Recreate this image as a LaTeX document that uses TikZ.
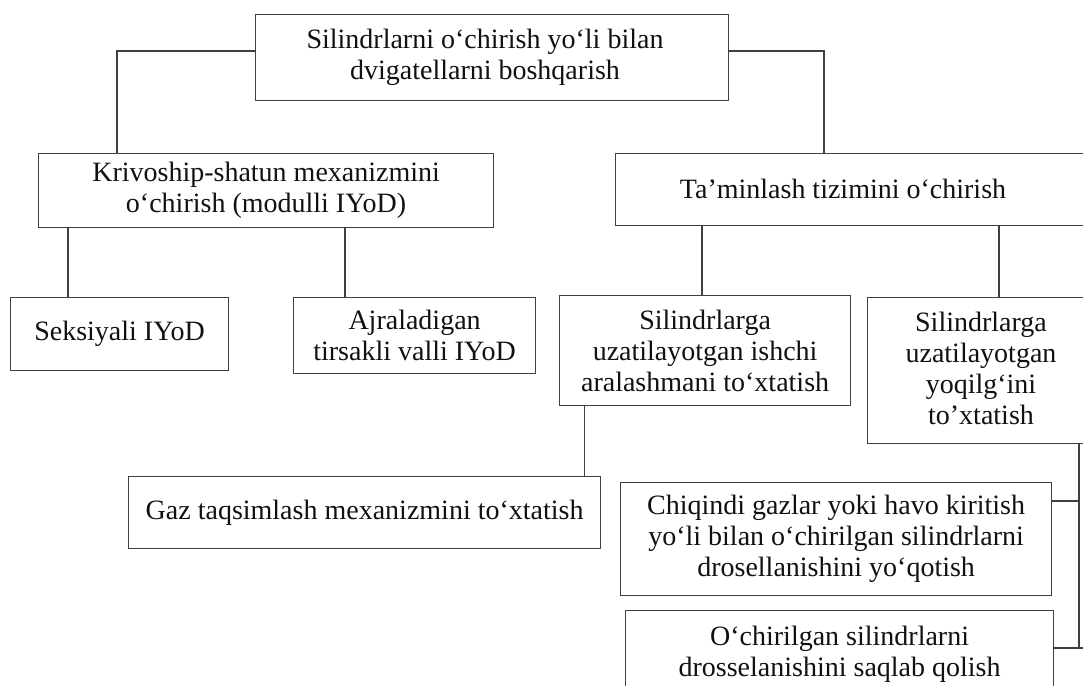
\documentclass[tikz,border=0pt]{standalone}
\usepackage{fontspec}
\setmainfont{Liberation Serif}
\definecolor{edge}{HTML}{404040}
\definecolor{ink}{HTML}{111111}
\begin{document}
\begin{tikzpicture}[x=1pt,y=-1pt,
  box/.style={draw=edge,line width=1.2pt,rectangle,inner sep=0pt,anchor=north west,align=center,text=ink,font=\fontsize{28}{31}\selectfont},
  lbl/.style={inner sep=0pt,align=center,text=ink,font=\fontsize{28}{31}\selectfont},
  conn/.style={draw=edge,line width=1.2pt}]
\useasboundingbox (0,0) rectangle (1083,685);
\clip (0,0) rectangle (1083,685);
\node[box,minimum width=473pt,minimum height=86pt] (top) at (255,14) {};
\node[lbl] (topt) at (485,57) {Silindrlarni o‘chirish yo‘li bilan\\dvigatellarni boshqarish};
\node[box,minimum width=455pt,minimum height=74pt] (kriv) at (38,153) {Krivoship-shatun mexanizmini\\o‘chirish (modulli IYoD)};
\node[box,minimum width=485pt,minimum height=72pt] (tam) at (615,153) {};
\node[lbl] (tamt) at (843,189) {Ta’minlash tizimini o‘chirish};
\node[box,minimum width=218pt,minimum height=73pt] (seks) at (10,297) {Seksiyali IYoD};
\node[box,minimum width=242pt,minimum height=76pt] (ajr) at (293,297) {Ajraladigan\\tirsakli valli IYoD};
\node[box,minimum width=291pt,minimum height=110pt] (ish) at (559,295) {Silindrlarga\\uzatilayotgan ishchi\\aralashmani to‘xtatish};
\node[box,minimum width=233pt,minimum height=146pt] (yoq) at (867,297) {};
\node[lbl] (yoqt) at (981,368) {Silindrlarga\\uzatilayotgan\\yoqilg‘ini\\to’xtatish};
\node[box,minimum width=472pt,minimum height=72pt] (gaz) at (128,476) {Gaz taqsimlash mexanizmini to‘xtatish};
\node[box,minimum width=431pt,minimum height=113pt] (chiq) at (620,482) {Chiqindi gazlar yoki havo kiritish\\yo‘li bilan o‘chirilgan silindrlarni\\drosellanishini yo‘qotish};
\node[box,minimum width=428pt,minimum height=88pt] (och) at (625,610) {O‘chirilgan silindrlarni\\drosselanishini saqlab qolish};
% connectors
\draw[conn] ([yshift=-37pt]top.north west) -| ([xshift=79pt]kriv.north west);
\draw[conn] ([yshift=-37pt]top.north east) -| ([xshift=209pt]tam.north west);
\draw[conn] ([xshift=58pt]seks.north west |- kriv.south) -- ([xshift=58pt]seks.north west);
\draw[conn] ([xshift=52pt]ajr.north west |- kriv.south) -- ([xshift=52pt]ajr.north west);
\draw[conn] ([xshift=87pt]tam.south west) -- ([xshift=87pt]tam.south west |- ish.north);
\draw[conn] ([xshift=132pt]yoq.north west |- tam.south) -- ([xshift=132pt]yoq.north west);
\draw[conn] ([xshift=-17pt]gaz.north east |- ish.south) -- ([xshift=-17pt]gaz.north east);
\draw[conn] ([xshift=212pt]yoq.south west) -- ([xshift=212pt,yshift=-38pt]och.north west -| yoq.south west);
\draw[conn] ([yshift=-19pt]chiq.north east) -- ([yshift=-19pt,xshift=212pt]chiq.north east -| yoq.south west);
\draw[conn] ([yshift=-38pt]och.north east) -- ++(40pt,0);
\end{tikzpicture}
\end{document}
